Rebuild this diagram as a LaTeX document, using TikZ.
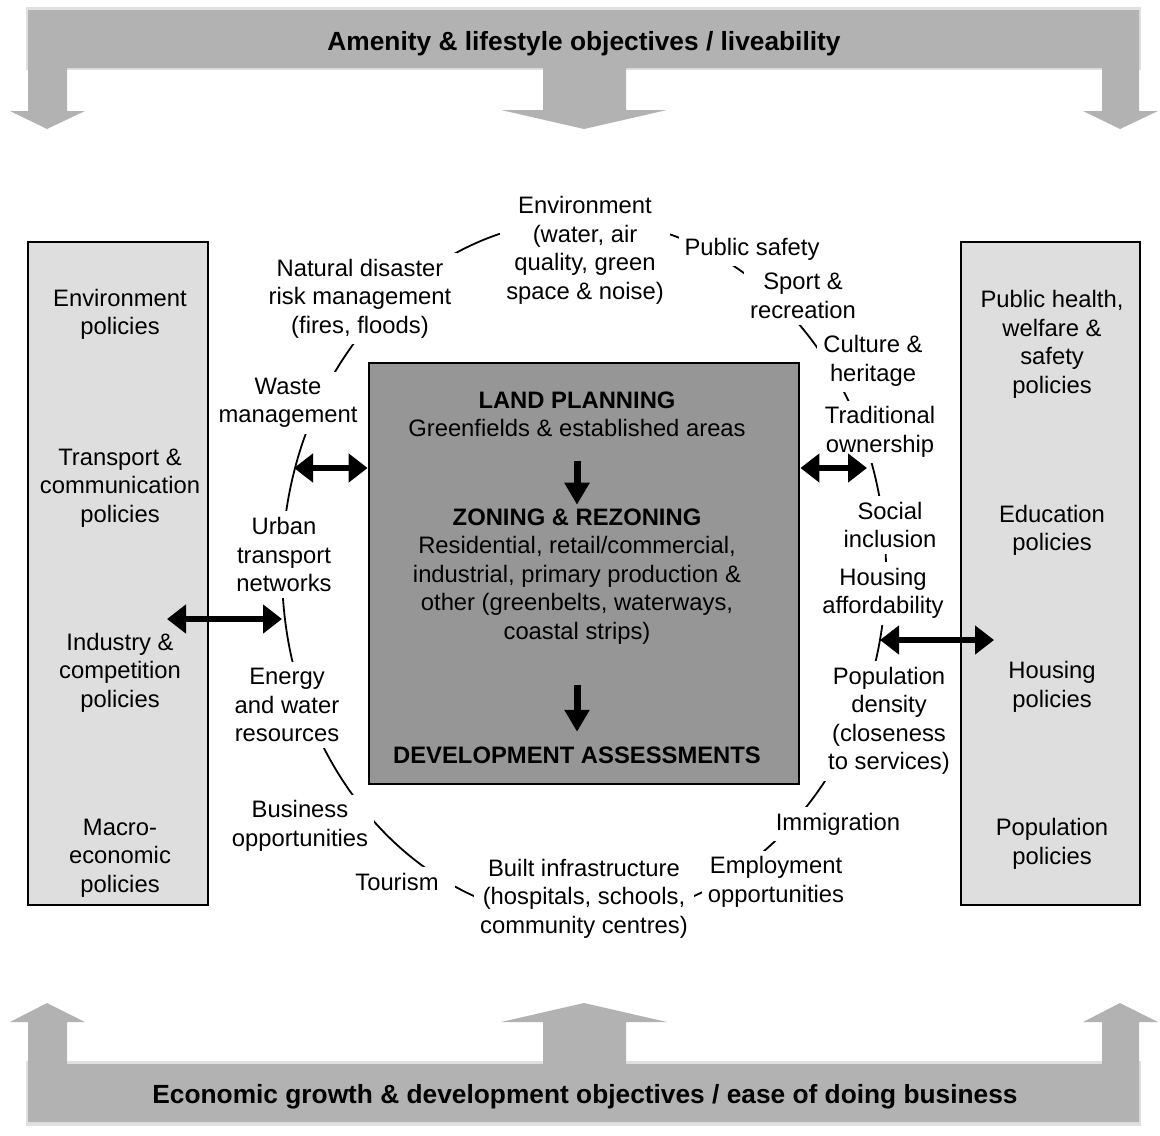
\documentclass[tikz,border=0pt]{standalone}
\usepackage{fontspec}
\setmainfont{Liberation Sans}
\usetikzlibrary{arrows.meta}

\definecolor{bannergray}{gray}{0.70}
\definecolor{banneredge}{gray}{0.88}
\definecolor{sidegray}{gray}{0.87}
\definecolor{plangray}{gray}{0.59}

\tikzset{
  txt/.style={align=center, inner sep=0pt, font=\fontsize{11.9}{14.25}\selectfont},
  lbl/.style={txt, fill=white, inner sep=3pt},
  policy/.style={txt},
  boxtext/.style={txt},
  bannertext/.style={inner sep=0pt, font=\fontsize{13.15}{15}\selectfont\bfseries},
  banner/.style={fill=bannergray},
  bannershade/.style={fill=banneredge},
  sidebox/.style={draw, line width=1pt, fill=sidegray, inner sep=0pt},
  planbox/.style={draw, line width=1.4pt, fill=plangray, inner sep=0pt},
  ring/.style={line width=0.9pt},
  dbl/.style={line width=3.4pt, {Triangle[length=9.5pt,width=14pt]}-{Triangle[length=9.5pt,width=14pt]}},
  down/.style={line width=3.5pt, -{Triangle[length=11pt,width=12pt]}}
}

\begin{document}
\begin{tikzpicture}[x=0.5pt, y=-0.5pt]
        \useasboundingbox (0,0) rectangle (1160,1135);

        % Top banner
        \path[bannershade] (26,7) rectangle (1141,70);
        \path[banner] (28,10) -- (1139,10) -- (1139,111) -- (1158,111) -- (1120,129) -- (1083,111)
            -- (1102,111) -- (1102,68) -- (626,68) -- (626,110) -- (667,110) -- (584,129)
            -- (501,110) -- (543,110) -- (543,68) -- (67,68) -- (67,111) -- (85,111)
            -- (47,129) -- (10,111) -- (28,111) -- cycle;
        \node[bannertext] (amenity) at (584,44) {Amenity \& lifestyle objectives / liveability};

        % Bottom banner
        \path[bannershade] (26,1061) rectangle (1141,1126);
        \path[banner] (28,1122) -- (1139,1122) -- (1139,1022) -- (1158,1022) -- (1120,1003) -- (1083,1022)
            -- (1102,1022) -- (1102,1064) -- (626,1064) -- (626,1022) -- (667,1022) -- (584,1003)
            -- (501,1022) -- (543,1022) -- (543,1064) -- (67,1064) -- (67,1022) -- (85,1022)
            -- (47,1003) -- (10,1022) -- (28,1022) -- cycle;
        \node[bannertext] (economy) at (585,1097) {Economic growth \& development objectives / ease of doing business};

        % Policy boxes
        \node[sidebox, minimum width=90pt, minimum height=331.5pt] (lbox) at (118,573.5) {};
        \node[sidebox, minimum width=89.5pt, minimum height=331.5pt] (rbox) at (1050.5,573.5) {};

        \node[policy] (envpol) at (120,314.5) {Environment\\policies};
        \node[policy] (transpol) at (120,488) {Transport \&\\communication\\policies};
        \node[policy] (indpol) at (120,672.5) {Industry \&\\competition\\policies};
        \node[policy] (macropol) at (120,858) {Macro-\\economic\\policies};

        \node[policy] (healthpol) at (1052,344.5) {Public health,\\welfare \&\\safety\\policies};
        \node[policy] (edupol) at (1052,530.5) {Education\\policies};
        \node[policy] (housepol) at (1052,687) {Housing\\policies};
        \node[policy] (poppol) at (1052,844) {Population\\policies};

        % Planning box
        \node[planbox, minimum width=215pt, minimum height=210.5pt] (planbox) at (584,573.5) {};
        \node[boxtext] (plan) at (577,414.5) {\textbf{LAND PLANNING}\\Greenfields \& established areas};
        \node[boxtext] (zone) at (577,576.5) {\textbf{ZONING \& REZONING}\\Residential, retail/commercial,\\industrial, primary production \&\\other (greenbelts, waterways,\\coastal strips)};
        \node[boxtext] (dev) at (577,755) {\textbf{DEVELOPMENT ASSESSMENTS}};

        \draw[down, shorten <=11.5pt, shorten >=1.8pt] (plan.south) -- (zone.north);
        \draw[down, shorten <=20pt, shorten >=7.2pt] (zone.south) -- (dev.north);

        % Ring of issues
        \draw[ring] (584,570) ellipse [x radius=151pt, y radius=175pt];

        \node[lbl] (env) at (585,250.5) {Environment\\(water, air\\quality, green\\space \& noise)};
        \node[lbl] (safety) at (752,249) {Public safety};
        \node[lbl] (sport) at (803,296) {Sport \&\\recreation};
        \node[lbl] (culture) at (873,361) {Culture \&\\heritage};
        \node[lbl] (trad) at (880,432) {Traditional\\ownership};
        \node[lbl] (social) at (890,525) {Social\\inclusion};
        \node[lbl] (housing) at (883,593.5) {Housing\\affordability};
        \node[lbl] (popden) at (889,721) {Population\\density\\(closeness\\to services)};
        \node[lbl] (immig) at (838,824) {Immigration};
        \node[lbl] (employ) at (776,882) {Employment\\opportunities};
        \node[lbl] (built) at (584,898.5) {Built infrastructure\\(hospitals, schools,\\community centres)};
        \node[lbl, inner xsep=8pt] (tourism) at (397,882) {Tourism};
        \node[lbl] (business) at (300,826) {Business\\opportunities};
        \node[lbl] (energy) at (287,705) {Energy\\and water\\resources};
        \node[lbl] (urban) at (284,554.5) {Urban\\transport\\networks};
        \node[lbl] (waste) at (288,403) {Waste\\management};
        \node[lbl] (natdis) at (360,298.5) {Natural disaster\\risk management\\(fires, floods)};

        % Two-way links
        \coordinate (ringA) at (294,468);
        \coordinate (ringB) at (867,468);
        \coordinate (ringC) at (282,619);
        \coordinate (ringD) at (880,640);
        \coordinate (lboxin) at (167,619);
        \coordinate (rboxin) at (994,640);

        \draw[dbl] (ringA) -- (ringA -| planbox.west);
        \draw[dbl] (planbox.east |- ringB) -- (ringB);
        \draw[dbl] (lboxin) -- (ringC);
        \draw[dbl] (ringD) -- (rboxin);
    \end{tikzpicture}
\end{document}
